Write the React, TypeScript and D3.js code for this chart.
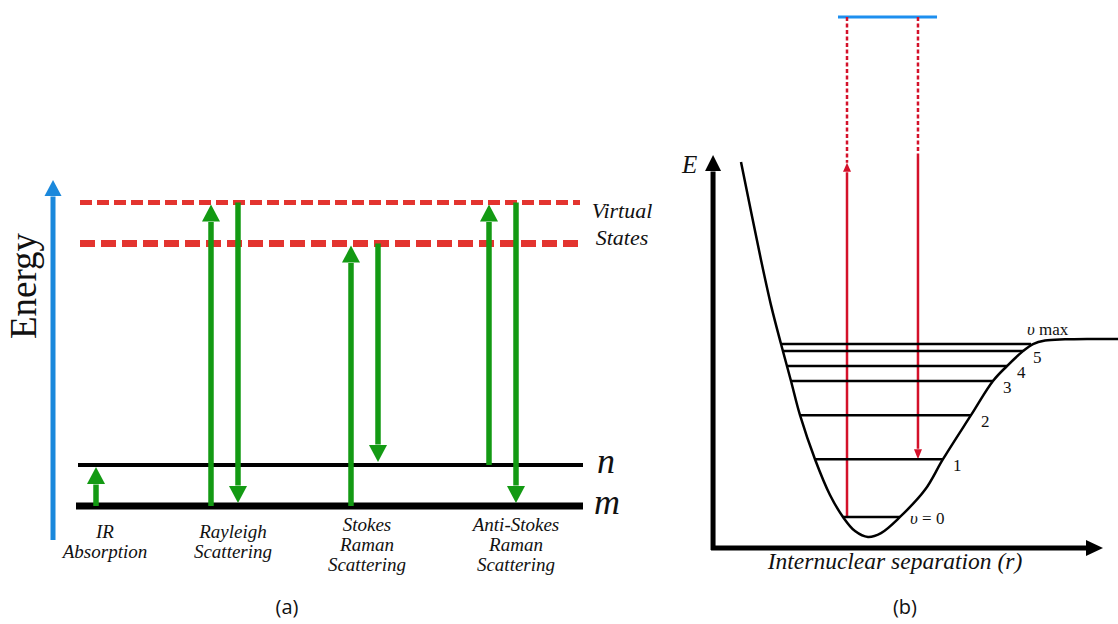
import React, { useEffect, useState } from "react";
import * as d3 from "d3";

// ---------- Panel (a): energy level diagram ----------
const GROUND_LEVELS = [
  { name: "m", energy: 0, x0: -0.08, x1: 10.06, width: 7 },
  { name: "n", energy: 1, x0: -0.04, x1: 10.06, width: 4 },
];
const VIRTUAL_LEVELS = [
  { energy: 7.4, width: 5, dash: "12 5" },
  { energy: 6.4, width: 7, dash: "15 6" },
];
const TRANSITIONS = [
  { pos: 0.32, from: 0, to: 1 },
  { pos: 2.62, from: 0, to: 7.4 },
  { pos: 3.16, from: 7.4, to: 0 },
  { pos: 5.42, from: 0, to: 6.4 },
  { pos: 5.96, from: 6.4, to: 1 },
  { pos: 8.18, from: 1, to: 7.4 },
  { pos: 8.72, from: 7.4, to: 0 },
];
const PROCESSES = [
  { lines: ["IR", "Absorption"], pos: 0.5 },
  { lines: ["Rayleigh", "Scattering"], pos: 3.06 },
  { lines: ["Stokes", "Raman", "Scattering"], pos: 5.74 },
  { lines: ["Anti-Stokes", "Raman", "Scattering"], pos: 8.72 },
];
const ENERGY_AXIS = { pos: -0.54, from: -0.83, to: 7.95 };

// ---------- Panel (b): potential energy curve ----------
const CURVE_R = [0.718, 1.231, 1.487, 1.744, 2.0, 2.231, 2.615, 3.0, 3.333, 3.641, 3.974, 4.308, 4.795, 5.436, 5.897, 6.615, 7.179, 7.538, 7.949, 8.205, 8.513, 9.026, 9.667, 10.385];
const CURVE_E = [9.82, 7.33, 6.18, 5.19, 4.25, 3.38, 2.26, 1.35, 0.79, 0.43, 0.28, 0.38, 0.79, 1.48, 2.26, 3.38, 4.25, 4.63, 5.01, 5.19, 5.28, 5.31, 5.32, 5.32];
const VIB_LABELS = ["υ = 0", "1", "2", "3", "4", "5", "υ max"];
const VIB_E = [0.79, 2.26, 3.38, 4.25, 4.63, 5.01, 5.19];
const VIB_R0 = [3.333, 2.615, 2.231, 2.0, 1.897, 1.795, 1.744];
const VIB_R1 = [4.795, 5.897, 6.615, 7.179, 7.538, 7.949, 8.154];
const EXCITED = { r0: 3.205, r1: 5.744, energy: 13.51 };
const PHOTONS = [
  { r: 3.436, from: 0.79, to: 13.51, solidEnd: 9.8, dir: "up" },
  { r: 5.256, from: 13.51, to: 2.26, solidEnd: 9.95, dir: "down" },
];
const AXES_B = { r0: -0.05, r1: 10, e0: 0, e1: 10 };

const GREEN = "#139a13";
const RED_DASH = "#e3342f";
const RED = "#d4112a";
const BLUE = "#1a88dc";

const CSS = `
.ser { font-family: "Liberation Serif"; font-style: normal; }
.ital { font-family: "Liberation Serif"; font-style: italic; }
.sans { font-family: "Open Sans"; }
`;

function VArrow({ x, y1, y2, color, sw, hl, hw, dash }: any) {
  const dir = y2 < y1 ? -1 : 1;
  const base = y2 - dir * hl;
  return (
    <g>
      <line x1={x} x2={x} y1={y1} y2={base - dir * 0.5} stroke={color} strokeWidth={sw} strokeDasharray={dash} />
      <path d={`M${x - hw / 2},${base}L${x + hw / 2},${base}L${x},${y2}Z`} fill={color} />
    </g>
  );
}

function HArrow({ y, x1, x2, color, sw, hl, hw }: any) {
  const base = x2 - hl;
  return (
    <g>
      <line x1={x1} x2={base + 0.5} y1={y} y2={y} stroke={color} strokeWidth={sw} />
      <path d={`M${base},${y - hw / 2}L${base},${y + hw / 2}L${x2},${y}Z`} fill={color} />
    </g>
  );
}

export default function App() {
  const [tick, setTick] = useState(0);
  useEffect(() => {
    const fonts: any = (document as any).fonts;
    if (fonts && fonts.load) {
      Promise.all([
        fonts.load('22px "Liberation Serif"'),
        fonts.load('italic 22px "Liberation Serif"'),
        fonts.load('20px "Open Sans"'),
      ]).then(() => setTick(1)).catch(() => setTick(1));
    }
  }, []);

  const W = 1118, H = 624;
  const xL = d3.scaleLinear().domain([0, 10]).range([80, 580]);
  const yL = d3.scaleLinear().domain([0, 1]).range([506, 465]);
  const xR = d3.scaleLinear().domain([0, 10]).range([713, 1103]);
  const yR = d3.scaleLinear().domain([0, 10]).range([548, 155]);

  const curvePts: [number, number][] = CURVE_R.map((r, i) => [r, CURVE_E[i]]);
  const curvePath = d3
    .line<[number, number]>()
    .x((d) => xR(d[0]))
    .y((d) => yR(d[1]))
    .curve(d3.curveCatmullRom.alpha(0.5))(curvePts) as string;

  const It = (p: any) => (
    <text className="ital" fontFamily="Liberation Serif" fontStyle="italic" fill="#111" {...p} />
  );

  return (
    <svg key={tick} width={W} height={H} style={{ position: "absolute", left: 0, top: 0, background: "#fff" }}>
      <style>{CSS}</style>
      <rect width={W} height={H} fill="#fff" />
      {/* ===== Panel (a) ===== */}
      <VArrow x={xL(ENERGY_AXIS.pos)} y1={yL(ENERGY_AXIS.from)} y2={yL(ENERGY_AXIS.to)} color={BLUE} sw={5} hl={16} hw={17} />
      <text className="ser" fontFamily="Liberation Serif" transform="translate(36, 286) rotate(-90)" textAnchor="middle" fontSize={37} fill="#111">
        Energy
      </text>
      {VIRTUAL_LEVELS.map((v, i) => (
        <line key={"v" + i} x1={xL(0)} x2={xL(10)} y1={yL(v.energy)} y2={yL(v.energy)} stroke={RED_DASH} strokeWidth={v.width} strokeDasharray={v.dash} />
      ))}
      <It x={622} y={218} textAnchor="middle" fontSize={22}>Virtual</It>
      <It x={622} y={245} textAnchor="middle" fontSize={22}>States</It>
      {GROUND_LEVELS.map((g) => (
        <line key={g.name} x1={xL(g.x0)} x2={xL(g.x1)} y1={yL(g.energy)} y2={yL(g.energy)} stroke="#000" strokeWidth={g.width} />
      ))}
      <It x={597} y={473} fontSize={36}>n</It>
      <It x={594} y={514} fontSize={36}>m</It>
      {TRANSITIONS.map((t, i) => {
        const isUp = t.to > t.from;
        const y1 = yL(t.from);
        const y2 = yL(t.to) + (isUp ? 2 : -3);
        return <VArrow key={"t" + i} x={xL(t.pos)} y1={y1} y2={y2} color={GREEN} sw={5.5} hl={17} hw={18} />;
      })}
      {PROCESSES.map((p, i) => {
        const first = p.lines.length === 2 ? 538 : 531;
        return (
          <It key={"p" + i} textAnchor="middle" fontSize={19}>
            {p.lines.map((l, j) => (
              <tspan key={j} x={xL(p.pos)} y={first + j * 20}>{l}</tspan>
            ))}
          </It>
        );
      })}
      <text className="sans" fontFamily="Open Sans" x={287} y={614} textAnchor="middle" fontSize={20} fill="#111">(a)</text>

      {/* ===== Panel (b) ===== */}
      <line x1={xR(EXCITED.r0)} x2={xR(EXCITED.r1)} y1={yR(EXCITED.energy)} y2={yR(EXCITED.energy)} stroke="#1d8fef" strokeWidth={3} />
      {PHOTONS.map((p, i) => {
        if (p.dir === "up") {
          return (
            <g key={"ph" + i}>
              <line x1={xR(p.r)} x2={xR(p.r)} y1={yR(p.to)} y2={yR(p.solidEnd)} stroke={RED} strokeWidth={2.5} strokeDasharray="4 2.5" />
              <VArrow x={xR(p.r)} y1={yR(p.from)} y2={yR(p.solidEnd)} color={RED} sw={2.5} hl={9} hw={8} />
            </g>
          );
        }
        return (
          <g key={"ph" + i}>
            <line x1={xR(p.r)} x2={xR(p.r)} y1={yR(p.from)} y2={yR(p.solidEnd)} stroke={RED} strokeWidth={2.5} strokeDasharray="4 2.5" />
            <VArrow x={xR(p.r)} y1={yR(p.solidEnd)} y2={yR(p.to)} color={RED} sw={2.5} hl={10} hw={8} />
          </g>
        );
      })}
      {VIB_E.map((e, i) => (
        <line key={"vib" + i} x1={xR(VIB_R0[i])} x2={xR(VIB_R1[i])} y1={yR(e)} y2={yR(e)} stroke="#000" strokeWidth={2.5} />
      ))}
      <path d={curvePath} fill="none" stroke="#000" strokeWidth={2.5} />
      {VIB_LABELS.map((lab, i) => {
        const isMax = i === VIB_LABELS.length - 1;
        const x = isMax ? xR(VIB_R1[i]) - 4 : xR(VIB_R1[i]) + 10;
        const y = isMax ? yR(VIB_E[i]) - 9 : yR(VIB_E[i]) + (i === 0 ? 7 : 12);
        const parts = lab.split(" ");
        return (
          <text key={"vl" + i} className="ser" fontFamily="Liberation Serif" x={x} y={y} fontSize={17} fill="#111">
            {parts[0] === "υ" ? (
              <>
                <tspan className="ital" fontStyle="italic">υ</tspan>
                <tspan>{" " + parts.slice(1).join(" ")}</tspan>
              </>
            ) : (
              lab
            )}
          </text>
        );
      })}
      <VArrow x={xR(AXES_B.r0) + 2} y1={yR(AXES_B.e0) + 2} y2={yR(AXES_B.e1)} color="#000" sw={5} hl={16} hw={16} />
      <HArrow y={yR(AXES_B.e0)} x1={xR(AXES_B.r0)} x2={xR(AXES_B.r1)} color="#000" sw={5} hl={17} hw={16} />
      <It x={682} y={173} fontSize={25}>E</It>
      <It x={895} y={569} textAnchor="middle" fontSize={23.5}>Internuclear separation (r)</It>
      <text className="sans" fontFamily="Open Sans" x={905} y={614} textAnchor="middle" fontSize={20} fill="#111">(b)</text>
    </svg>
  );
}
